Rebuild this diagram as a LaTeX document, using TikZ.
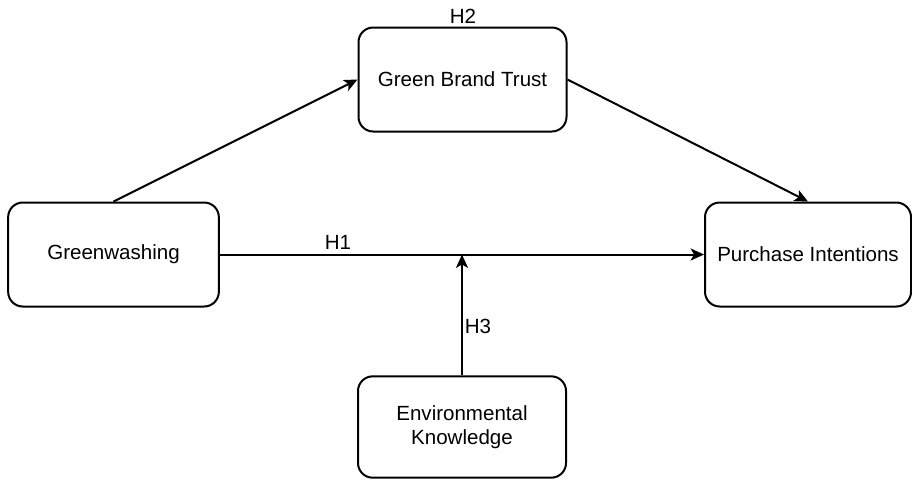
\documentclass[tikz,border=0pt]{standalone}
\usepackage{fontspec}
\setmainfont{Liberation Sans}
\usetikzlibrary{arrows.meta}
\begin{document}
\begin{tikzpicture}[x=0.75pt,y=-0.75pt,
  box/.style={draw=black,line width=1.5pt,rounded corners=11pt,fill=white,
    minimum width=156pt,minimum height=78pt,inner sep=0pt,align=center,
    font=\fontsize{15.4pt}{18pt}\selectfont},
  lab/.style={font=\fontsize{15.4pt}{18pt}\selectfont,inner sep=0pt},
  conn/.style={line width=1.5pt,-{Stealth[length=10pt,width=9pt,inset=2.5pt]}}]
\useasboundingbox (0,0) rectangle (912,480);
\node[box] (gbt) at (462.5,79.5) {Green Brand Trust};
\node[box,minimum width=158pt] (gw) at (113.5,254.5) {Greenwashing};
\node[box,minimum width=154.5pt] (pi) at (808,254.5) {Purchase Intentions};
\node[box,minimum height=76pt] (ek) at (462,427) {Environmental\\Knowledge};
\coordinate (mod) at (462,254.5);
\draw[conn] (gw.north) -- (gbt.west);
\draw[conn] (gbt.east) -- (pi.north);
\draw[conn] (gw.east) -- (pi.west);
\draw[conn] (ek.north) -- (mod);
\node[lab] (h1) at (338,242) {H1};
\node[lab] (h2) at (463,16) {H2};
\node[lab] (h3) at (478,326) {H3};
\end{tikzpicture}
\end{document}
